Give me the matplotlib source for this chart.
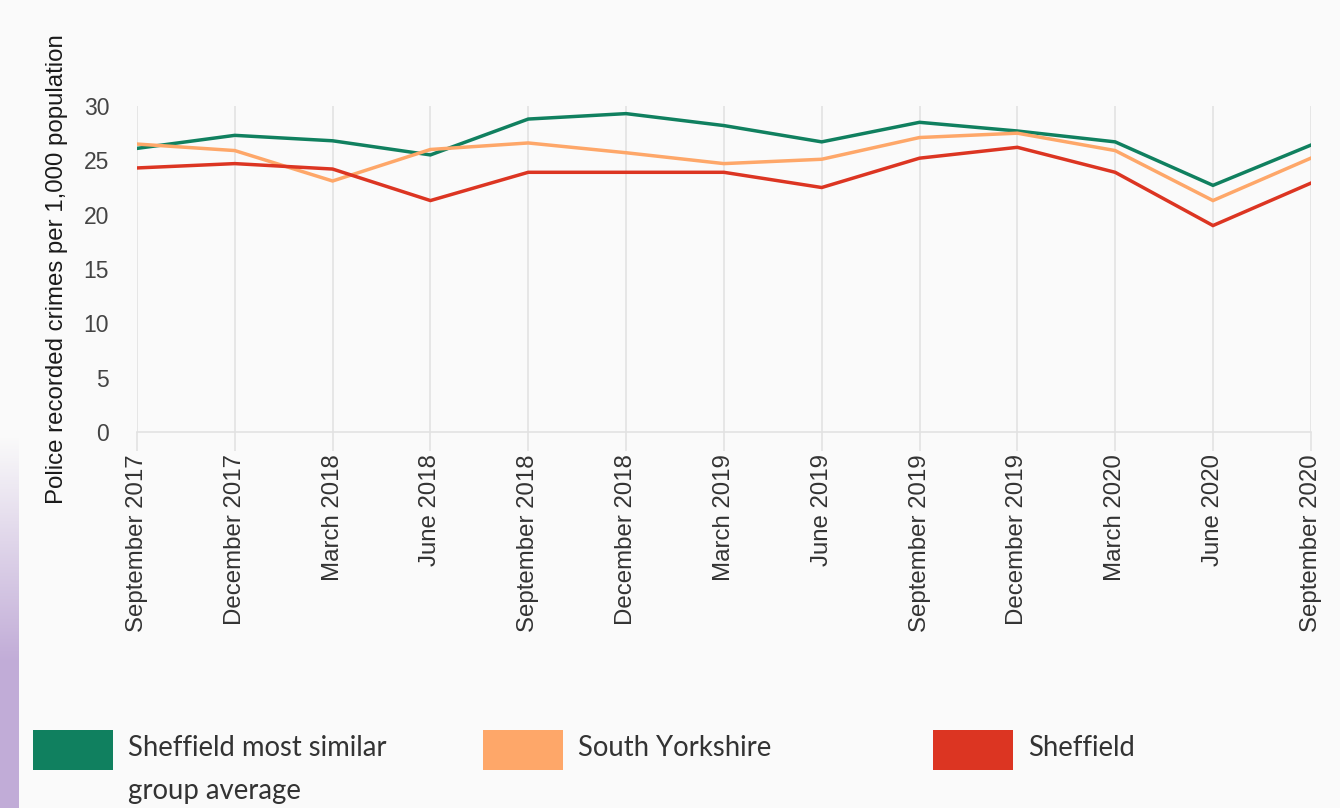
import numpy as np
import matplotlib
matplotlib.use("Agg")
import matplotlib.pyplot as plt
from matplotlib.patches import Rectangle

quarters = ["September 2017", "December 2017", "March 2018", "June 2018",
            "September 2018", "December 2018", "March 2019", "June 2019",
            "September 2019", "December 2019", "March 2020", "June 2020",
            "September 2020"]
similar_group = [26.1, 27.3, 26.8, 25.5, 28.8, 29.3, 28.2, 26.7, 28.5, 27.7, 26.7, 22.7, 26.4]
south_yorkshire = [26.5, 25.9, 23.1, 26.0, 26.6, 25.7, 24.7, 25.1, 27.1, 27.5, 25.9, 21.3, 25.2]
sheffield = [24.3, 24.7, 24.2, 21.3, 23.9, 23.9, 23.9, 22.5, 25.2, 26.2, 23.9, 19.0, 22.9]
y_ticks = [0, 5, 10, 15, 20, 25, 30]
series_names = ["Sheffield most similar\ngroup average", "South Yorkshire", "Sheffield"]

colors = ["#10805f", "#fea769", "#dc3522"]
bg = "#fafafa"

fig = plt.figure(figsize=(13.4, 8.08), dpi=100, facecolor=bg)

# faint purple backdrop strip at left edge (from screenshot)
grad_ax = fig.add_axes([0, 0, 0.014, 0.46], zorder=-5)
t = np.linspace(0, 1, 256)
rgba = np.zeros((256, 1, 4))
rgba[..., 0] = 0.72
rgba[..., 1] = 0.62
rgba[..., 2] = 0.82
rgba[:, 0, 3] = np.clip(t * 1.4, 0, 0.85)
grad_ax.imshow(rgba, aspect="auto", origin="upper")
grad_ax.axis("off")

ax = fig.add_axes([0.1022, 0.4653, 0.876, 0.4035], facecolor=bg)
x = np.arange(len(quarters))
for vals, c in zip([similar_group, south_yorkshire, sheffield], colors):
    ax.plot(x, vals, color=c, lw=2.5, solid_joinstyle="miter", zorder=3)

ax.set_xlim(x[0], x[-1])
ax.set_ylim(0, 30)
ax.set_yticks(y_ticks)
ax.set_xticks(x)
ax.set_xticklabels(quarters, rotation=90, fontsize=17.3, color="#333333",
                   family="Liberation Sans")
ax.set_yticklabels([str(v) for v in y_ticks], fontsize=16.5, color="#444444",
                   family="Liberation Sans")
ax.tick_params(axis="x", length=14, width=1.2, color="#e2e2e2", pad=2)
ax.tick_params(axis="y", length=0, pad=20)
ax.grid(axis="x", color="#e2e2e2", lw=1.2, zorder=0)
for s in ["top", "right", "left"]:
    ax.spines[s].set_visible(False)
ax.spines["bottom"].set_color("#e2e2e2")
ax.spines["bottom"].set_linewidth(1.2)
ax.set_ylabel("Police recorded crimes per 1,000 population", fontsize=17.3,
              color="#1a1a1a", family="Liberation Sans")
ax.yaxis.set_label_coords(-0.0588, 0.5)

# legend
leg_x = [33, 483, 933]
for name, c, lx in zip(series_names, colors, leg_x):
    fig.patches.append(Rectangle((lx / 1340, 1 - 770 / 808), 80 / 1340, 40 / 808,
                                 transform=fig.transFigure, facecolor=c,
                                 edgecolor="none"))
    lines = name.split("\n")
    for i, ln in enumerate(lines):
        fig.text((lx + 95) / 1340, 1 - (748 + 43 * i) / 808, ln, fontsize=19.8,
                 family="Lato", color="#333333", va="center", ha="left")

fig.savefig("out.png", dpi=100, facecolor=bg)
